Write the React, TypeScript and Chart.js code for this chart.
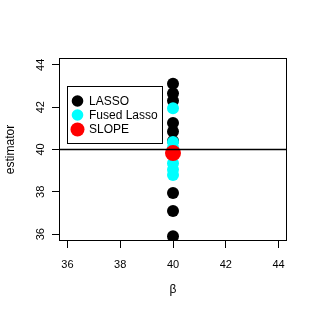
import React, { useEffect, useRef } from "react";
import { Chart, registerables } from "chart.js";
Chart.register(...registerables);

const beta = 40;
const lassoValues = [43.1, 42.65, 42.3, 41.25, 40.85, 40.4, 37.95, 37.1, 35.9];
const fusedValues = [41.95, 40.35, 40.1, 39.35, 39.05, 38.8];
const slopeValues = [39.83];
const trueValue = 40;
const xTicks = [36, 38, 40, 42, 44];
const yTicks = [36, 38, 40, 42, 44];
const axisMin = 35.68;
const axisMax = 44.32;
const seriesNames = ["LASSO", "Fused Lasso", "SLOPE"];
const seriesColors = ["#000000", "#00FFFF", "#FF0000"];
const FONT = "'Liberation Sans', Arial, Helvetica, sans-serif";

export default function App() {
  const ref = useRef<HTMLCanvasElement | null>(null);
  useEffect(() => {
    const canvas = ref.current;
    if (!canvas) return;
    const overlay = {
      id: "overlay",
      afterDraw(chart: any) {
        const { ctx, chartArea } = chart;
        const ys = chart.scales.y;
        ctx.save();
        // box
        ctx.strokeStyle = "#000";
        ctx.lineWidth = 1;
        ctx.strokeRect(
          Math.round(chartArea.left) + 0.5,
          Math.round(chartArea.top) + 0.5,
          Math.round(chartArea.right - chartArea.left) - 1,
          Math.round(chartArea.bottom - chartArea.top) - 1
        );
        // y tick labels rotated
        ctx.fillStyle = "#000";
        ctx.font = `11px ${FONT}`;
        ctx.textAlign = "center";
        ctx.textBaseline = "middle";
        for (const v of yTicks) {
          const y = ys.getPixelForValue(v);
          ctx.save();
          ctx.translate(41, y);
          ctx.rotate(-Math.PI / 2);
          ctx.fillText(String(v), 0, 0);
          ctx.restore();
        }
        // legend
        const lx = 67.5, ly = 86.5, lw = 95, lh = 57;
        ctx.fillStyle = "#fff";
        ctx.fillRect(lx, ly, lw, lh);
        ctx.strokeStyle = "#000";
        ctx.strokeRect(lx, ly, lw, lh);
        const rows = [101, 115, 129.5];
        const radii = [5.8, 5.8, 7];
        ctx.font = `12px ${FONT}`;
        ctx.textAlign = "left";
        for (let i = 0; i < seriesNames.length; i++) {
          ctx.fillStyle = seriesColors[i];
          ctx.beginPath();
          ctx.arc(77.5, rows[i], radii[i], 0, Math.PI * 2);
          ctx.fill();
          ctx.fillStyle = "#000";
          ctx.fillText(seriesNames[i], 89, rows[i] + 0.5);
        }
        ctx.restore();
      },
    };
    const chart = new Chart(canvas, {
      type: "scatter",
      data: {
        datasets: [
          {
            type: "line",
            label: "true",
            data: [
              { x: axisMin, y: trueValue },
              { x: axisMax, y: trueValue },
            ],
            borderColor: "#000",
            borderWidth: 1.5,
            pointRadius: 0,
            fill: false,
          } as any,
          {
            label: seriesNames[2],
            data: slopeValues.map((v) => ({ x: beta, y: v })),
            backgroundColor: seriesColors[2],
            borderWidth: 0,
            pointRadius: 8,
          },
          {
            label: seriesNames[1],
            data: fusedValues.map((v) => ({ x: beta, y: v })),
            backgroundColor: seriesColors[1],
            borderWidth: 0,
            pointRadius: 6,
          },
          {
            label: seriesNames[0],
            data: lassoValues.map((v) => ({ x: beta, y: v })),
            backgroundColor: seriesColors[0],
            borderWidth: 0,
            pointRadius: 6,
          },
        ],
      },
      options: {
        animation: false,
        responsive: false,
        devicePixelRatio: 1,
        layout: { padding: { left: 0, top: 58, right: 30, bottom: 0 } },
        plugins: { legend: { display: false }, tooltip: { enabled: false } },
        scales: {
          x: {
            type: "linear",
            min: axisMin,
            max: axisMax,
            afterBuildTicks: (s: any) => {
              s.ticks = xTicks.map((v) => ({ value: v }));
            },
            afterFit: (s: any) => {
              s.height = 75;
            },
            grid: {
              drawOnChartArea: false,
              drawTicks: true,
              tickLength: 7,
              tickColor: "#000",
            },
            border: { display: false },
            ticks: {
              color: "#000",
              font: { family: FONT, size: 11 },
              padding: 10,
              maxRotation: 0,
              callback: (v: any) => String(v),
            },
            title: {
              display: true,
              text: "β",
              color: "#000",
              font: { family: FONT, size: 12 },
              padding: { top: 0, bottom: 19 },
            },
          },
          y: {
            type: "linear",
            min: axisMin,
            max: axisMax,
            afterBuildTicks: (s: any) => {
              s.ticks = yTicks.map((v) => ({ value: v }));
            },
            afterFit: (s: any) => {
              s.width = 59;
            },
            grid: {
              drawOnChartArea: false,
              drawTicks: true,
              tickLength: 7,
              tickColor: "#000",
            },
            border: { display: false },
            ticks: {
              color: "rgba(0,0,0,0)",
              font: { family: FONT, size: 11 },
              callback: (v: any) => String(v),
            },
            title: {
              display: true,
              text: "estimator",
              color: "#000",
              font: { family: FONT, size: 12 },
              padding: { top: 3, bottom: 0 },
            },
          },
        },
      },
      plugins: [overlay],
    });
    return () => chart.destroy();
  }, []);
  return (
    <div style={{ position: "absolute", left: 0, top: 0, width: 317, height: 316, background: "#fff" }}>
      <canvas ref={ref} width={317} height={316} style={{ width: 317, height: 316 }} />
    </div>
  );
}
